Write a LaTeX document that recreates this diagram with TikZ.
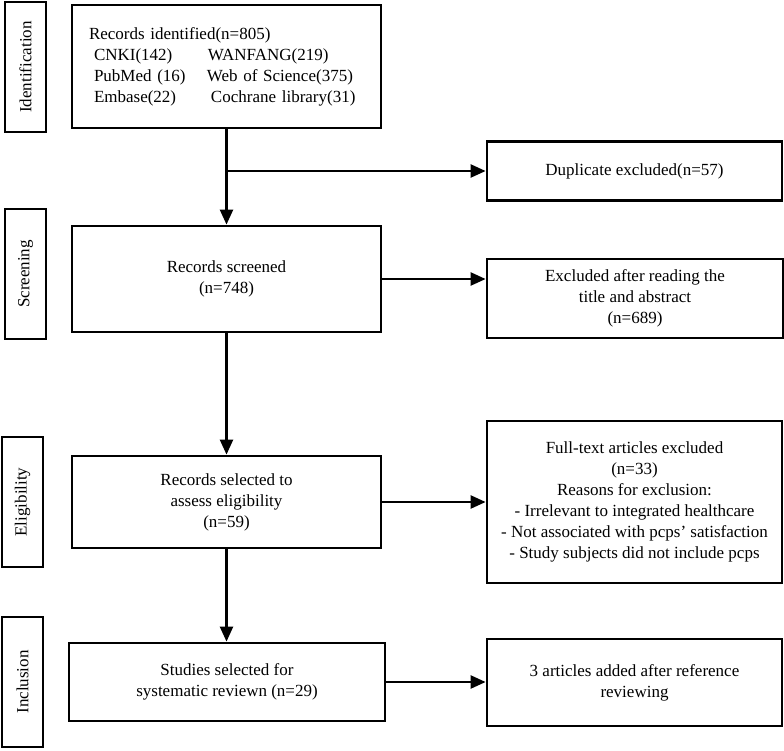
\documentclass[tikz,border=0pt]{standalone}
\usepackage{fontspec}
\setmainfont{Liberation Serif}
\usetikzlibrary{arrows.meta}

\begin{document}
\begin{tikzpicture}[x=1pt, y=-1pt,
  stagebox/.style={draw, line width=2.8pt, rotate=90, minimum width=130pt,
    minimum height=41pt, inner sep=0pt, font=\fontsize{17}{21}\selectfont},
  flowbox/.style={draw, line width=2.8pt, inner sep=0pt, align=center,
    font=\fontsize{17}{21}\selectfont},
  flowarrow/.style={line width=2.4pt, -{Triangle[length=15pt,width=13pt]}}]

  \useasboundingbox (0,0) rectangle (784,750);

  %--- Stage labels ---
  \node[stagebox] (stageA) at (25.5,67)  {Identification};
  \node[stagebox] (stageB) at (25.5,274) {Screening};
  \node[stagebox] (stageC) at (22.5,502) {Eligibility};
  \node[stagebox] (stageD) at (22.5,682) {Inclusion};

  %--- Main column ---
  \node[flowbox, align=left, inner xsep=17pt, text width=275pt, minimum height=123pt]
    (ident) at (226.5,66.5) {Records identified(n=805)\\
    \hspace*{5pt}\makebox[114pt][l]{CNKI(142)}WANFANG(219)\\
    \hspace*{5pt}\makebox[113pt][l]{PubMed (16)}Web of Science(375)\\
    \hspace*{5pt}\makebox[117pt][l]{Embase(22)}Cochrane library(31)};
  \node[flowbox, minimum width=309pt, minimum height=106pt]
    (screened) at (226.5,279) {Records screened\\(n=748)};
  \node[flowbox, minimum width=309pt, minimum height=92pt]
    (selected) at (226.5,502) {Records selected to\\assess eligibility\\(n=59)};
  \node[flowbox, minimum width=316pt, minimum height=78pt]
    (studies) at (227,682) {Studies selected for\\systematic reviewn (n=29)};

  %--- Side column ---
  \node[flowbox, minimum width=295pt, minimum height=59pt]
    (duplicate) at (634.5,171) {Duplicate excluded(n=57)};
  \node[flowbox, minimum width=296pt, minimum height=79pt]
    (excluded) at (635,298.5) {Excluded after reading the\\title and abstract\\(n=689)};
  \node[flowbox, minimum width=295pt, minimum height=162pt]
    (fulltext) at (634.5,502) {Full-text articles excluded\\(n=33)\\Reasons for exclusion:\\
    - Irrelevant to integrated healthcare\\- Not associated with pcps' satisfaction\\
    - Study subjects did not include pcps};
  \node[flowbox, minimum width=295pt, minimum height=87pt]
    (added) at (634.5,682.5) {3 articles added after reference\\reviewing};

  %--- Connectors ---
  \coordinate (split) at (ident.south |- duplicate.west);
  \draw[flowarrow] (ident.south) -- (ident.south |- screened.north);
  \draw[flowarrow] (split) -- (duplicate.west);
  \draw[flowarrow] (screened.east) -- (screened.east -| excluded.west);
  \draw[flowarrow] (screened.south) -- (screened.south |- selected.north);
  \draw[flowarrow] (selected.east) -- (selected.east -| fulltext.west);
  \draw[flowarrow] (selected.south) -- (selected.south |- studies.north);
  \draw[flowarrow] (studies.east) -- (studies.east -| added.west);

\end{tikzpicture}
\end{document}
